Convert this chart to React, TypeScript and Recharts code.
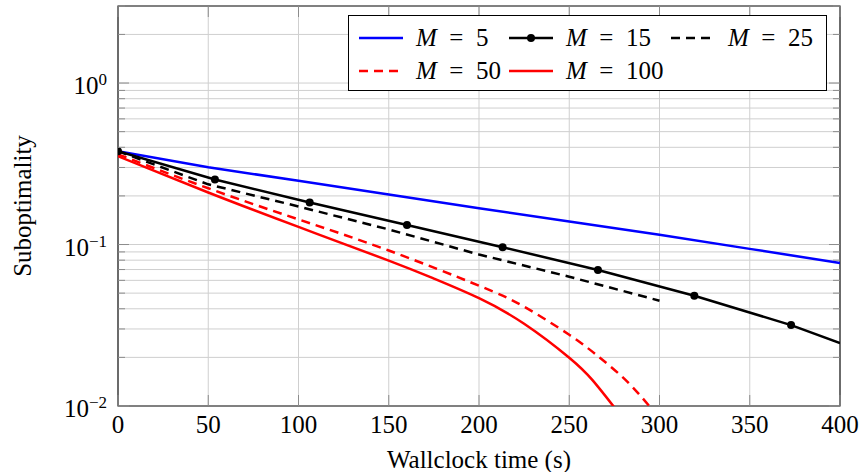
import { LineChart, Line, XAxis, YAxis, CartesianGrid, Legend, ReferenceArea } from 'recharts';

const FONT = '"Liberation Serif", "Times New Roman", serif';

// plot box (layout only)
const LEFT = 118;
const RIGHT = 840;
const TOP = 6;
const BOTTOM = 406;

// M = 5
const tM5 = [0, 50, 100, 150, 200, 250, 300, 350, 400];
const vM5 = [0.378, 0.301, 0.248, 0.204, 0.168, 0.139, 0.115, 0.094, 0.0769];
// M = 15 (marked points + end)
const tM15 = [0, 53.7, 106.2, 160.1, 213.1, 265.9, 319.3, 372.9, 400];
const vM15 = [0.378, 0.253, 0.182, 0.132, 0.0962, 0.0696, 0.0482, 0.0317, 0.0245];
// M = 25
const tM25 = [0, 50, 100, 150, 200, 250, 300];
const vM25 = [0.378, 0.236, 0.172, 0.124, 0.0867, 0.0632, 0.0449];
// M = 50
const tM50 = [0, 50, 100, 150, 200, 225, 250, 267, 282, 295];
const vM50 = [0.362, 0.223, 0.143, 0.0918, 0.0556, 0.0412, 0.0276, 0.0199, 0.0142, 0.0098];
// M = 100
const tM100 = [0, 50, 100, 150, 175, 200, 225, 250, 263, 275];
const vM100 = [0.352, 0.21, 0.1285, 0.0795, 0.0615, 0.0465, 0.0323, 0.0199, 0.0144, 0.0098];

const xTicks = [0, 50, 100, 150, 200, 250, 300, 350, 400];
const yDecades = [0.01, 0.1, 1];
const yTicks = yDecades
  .flatMap((d) => [1, 2, 3, 4, 5, 6, 7, 8, 9].map((k) => k * d))
  .filter((v) => v <= 3.0001);

const toRows = (ts: number[], vs: number[]) => ts.map((t, i) => ({ t, v: vs[i] }));

const SERIES = [
  { name: '5', data: toRows(tM5, vM5), color: '#0000ff', dash: undefined, marker: false },
  { name: '15', data: toRows(tM15, vM15), color: '#000000', dash: undefined, marker: true },
  { name: '25', data: toRows(tM25, vM25), color: '#000000', dash: '9 6', marker: false },
  { name: '50', data: toRows(tM50, vM50), color: '#ff0000', dash: '9 6', marker: false },
  { name: '100', data: toRows(tM100, vM100), color: '#ff0000', dash: undefined, marker: false },
];

const isMajor = (v: number) => Math.abs(Math.log10(v) - Math.round(Math.log10(v))) < 1e-9;

function YTick(props: any) {
  const { y, payload } = props;
  const v = payload.value;
  const major = isMajor(v);
  const len = major ? 11 : 7;
  const exp = Math.round(Math.log10(v));
  return (
    <g>
      <line x1={LEFT} x2={LEFT + len} y1={y} y2={y} stroke="#8c8c8c" />
      <line x1={RIGHT - len} x2={RIGHT} y1={y} y2={y} stroke="#8c8c8c" />
      {major && (
        <text x={107} y={y + 11} textAnchor="end" fontSize={25} fill="#000" fontFamily={FONT}>
          10
          <tspan dy={-9} fontSize={17}>
            {exp < 0 ? `\u2212${-exp}` : `${exp}`}
          </tspan>
        </text>
      )}
    </g>
  );
}

function XTick(props: any) {
  const { x, payload } = props;
  return (
    <g>
      <line x1={x} x2={x} y1={BOTTOM} y2={BOTTOM - 11} stroke="#8c8c8c" />
      <line x1={x} x2={x} y1={TOP} y2={TOP + 11} stroke="#8c8c8c" />
      <text x={x} y={433} textAnchor="middle" fontSize={25} fill="#000" fontFamily={FONT}>
        {payload.value}
      </text>
    </g>
  );
}

function XLabel() {
  return (
    <text x={(LEFT + RIGHT) / 2} y={468} textAnchor="middle" fontSize={25} fill="#000" fontFamily={FONT}>
      Wallclock time (s)
    </text>
  );
}

function YLabel() {
  const cx = 22;
  const cy = (TOP + BOTTOM) / 2;
  return (
    <text
      x={cx}
      y={cy}
      transform={`rotate(-90 ${cx} ${cy})`}
      textAnchor="middle"
      dominantBaseline="central"
      fontSize={25}
      fill="#000"
      fontFamily={FONT}
    >
      Suboptimality
    </text>
  );
}

function MarkerDot(props: any) {
  const { cx, cy, index } = props;
  if (index >= tM15.length - 1) return <g key={`d-${index}`} />;
  return <circle key={`d-${index}`} cx={cx} cy={cy} r={4} fill="#000" stroke="none" />;
}

function LegendBox() {
  return (
    <div
      style={{
        boxSizing: 'border-box',
        width: 479,
        height: 76,
        border: '1px solid #000',
        background: '#fff',
        display: 'grid',
        gridTemplateColumns: '150px 162px 157px',
        gridAutoRows: '33px',
        padding: '5px 0 0 10px',
        fontFamily: FONT,
        fontSize: 25,
        lineHeight: '33px',
        color: '#000',
      }}
    >
      {SERIES.map((s) => (
        <div key={s.name} style={{ display: 'flex', alignItems: 'center', whiteSpace: 'nowrap' }}>
          <svg width={44} height={12} style={{ marginRight: 13, flex: 'none' }}>
            <line x1={0} x2={44} y1={6} y2={6} stroke={s.color} strokeWidth={2.5} strokeDasharray={s.dash} />
            {s.marker && <circle cx={22} cy={6} r={4} fill={s.color} />}
          </svg>
          <span>
            <i>M</i>
            {'\u2002=\u2002'}
            {s.name}
          </span>
        </div>
      ))}
    </div>
  );
}

export default function App() {
  return (
    <div style={{ position: 'absolute', left: 0, top: 0, width: 863, height: 472, background: '#fff' }}>
      <LineChart width={863} height={472} margin={{ top: TOP, right: 863 - RIGHT, bottom: 0, left: 0 }}>
        <CartesianGrid stroke="#cfcfcf" strokeWidth={1} />
        <XAxis
          type="number"
          dataKey="t"
          domain={[0, 400]}
          ticks={xTicks}
          interval={0}
          allowDataOverflow
          height={472 - BOTTOM}
          axisLine={false}
          tickLine={false}
          tick={<XTick />}
          label={{ content: XLabel }}
        />
        <YAxis
          type="number"
          dataKey="v"
          scale="log"
          domain={[0.01, 3]}
          ticks={yTicks}
          interval={0}
          allowDataOverflow
          width={LEFT}
          axisLine={false}
          tickLine={false}
          tick={<YTick />}
          label={{ content: YLabel }}
        />
        {SERIES.map((s) => (
          <Line
            key={s.name}
            data={s.data}
            dataKey="v"
            name={`M = ${s.name}`}
            type={s.color === '#ff0000' ? 'natural' : 'linear'}
            stroke={s.color}
            strokeWidth={2.5}
            strokeDasharray={s.dash}
            dot={s.marker ? <MarkerDot /> : false}
            activeDot={false}
            isAnimationActive={false}
          />
        ))}
        <ReferenceArea
          x1={0}
          x2={400}
          y1={0.01}
          y2={3}
          fill="none"
          stroke="#1a1a1a"
          strokeWidth={1.2}
          ifOverflow="visible"
        />
        <Legend
          layout="horizontal"
          verticalAlign="middle"
          align="center"
          wrapperStyle={{ left: 348, top: 15, width: 479, height: 76 }}
          content={<LegendBox />}
        />
      </LineChart>
    </div>
  );
}
